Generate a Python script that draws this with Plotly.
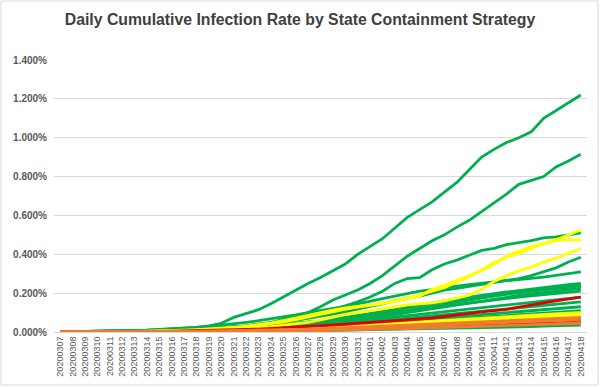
import plotly.graph_objects as go

dates = ["20200307","20200308","20200309","20200310","20200311","20200312","20200313",
         "20200314","20200315","20200316","20200317","20200318","20200319","20200320",
         "20200321","20200322","20200323","20200324","20200325","20200326","20200327",
         "20200328","20200329","20200330","20200331","20200401","20200402","20200403",
         "20200404","20200405","20200406","20200407","20200408","20200409","20200410",
         "20200411","20200412","20200413","20200414","20200415","20200416","20200417",
         "20200418"]

y_ticks = [0.0, 0.2, 0.4, 0.6, 0.8, 1.0, 1.2, 1.4]
y_tick_labels = ["0.000%", "0.200%", "0.400%", "0.600%", "0.800%", "1.000%", "1.200%", "1.400%"]

# cumulative infection rate, in percent
green_1 = [0.000,0.001,0.002,0.003,0.004,0.005,0.007,0.009,0.012,0.015,0.019,0.024,0.031,0.045,0.075,0.095,0.115,0.145,0.178,0.215,0.250,0.280,0.315,0.350,0.400,0.440,0.480,0.535,0.590,0.630,0.670,0.720,0.770,0.835,0.900,0.940,0.975,1.000,1.030,1.100,1.140,1.180,1.220]
green_2 = [0.000,0.000,0.001,0.001,0.002,0.003,0.004,0.005,0.006,0.008,0.010,0.012,0.016,0.020,0.025,0.032,0.040,0.050,0.065,0.080,0.100,0.130,0.165,0.190,0.216,0.250,0.290,0.340,0.390,0.430,0.470,0.500,0.540,0.575,0.620,0.665,0.710,0.760,0.780,0.800,0.850,0.880,0.915]
green_3 = [0.000,0.000,0.001,0.001,0.002,0.002,0.003,0.004,0.005,0.006,0.008,0.010,0.013,0.017,0.022,0.028,0.035,0.045,0.055,0.068,0.082,0.098,0.115,0.135,0.155,0.180,0.210,0.250,0.275,0.280,0.320,0.350,0.370,0.395,0.420,0.430,0.450,0.460,0.470,0.485,0.490,0.500,0.510]
green_4 = [0.000,0.001,0.001,0.002,0.003,0.004,0.005,0.006,0.008,0.010,0.012,0.015,0.018,0.022,0.027,0.032,0.038,0.045,0.052,0.060,0.070,0.080,0.092,0.105,0.120,0.132,0.145,0.160,0.175,0.185,0.200,0.215,0.225,0.235,0.245,0.252,0.262,0.275,0.290,0.310,0.330,0.360,0.385]
green_5 = [0.000,0.001,0.002,0.003,0.004,0.006,0.008,0.010,0.013,0.016,0.020,0.024,0.029,0.035,0.042,0.050,0.058,0.067,0.077,0.088,0.100,0.110,0.120,0.132,0.145,0.160,0.172,0.185,0.198,0.210,0.218,0.228,0.236,0.244,0.252,0.258,0.264,0.270,0.276,0.283,0.292,0.300,0.310]
green_6 = [0.000,0.000,0.001,0.001,0.002,0.002,0.003,0.004,0.005,0.006,0.008,0.010,0.012,0.015,0.018,0.022,0.026,0.031,0.036,0.042,0.048,0.055,0.062,0.070,0.080,0.090,0.100,0.112,0.125,0.138,0.150,0.160,0.170,0.180,0.190,0.198,0.206,0.214,0.222,0.230,0.238,0.244,0.250]
green_7 = [0.000,0.000,0.000,0.001,0.001,0.002,0.002,0.003,0.004,0.005,0.006,0.008,0.010,0.012,0.015,0.018,0.022,0.026,0.031,0.036,0.042,0.048,0.055,0.063,0.071,0.080,0.090,0.100,0.110,0.120,0.132,0.143,0.154,0.165,0.175,0.185,0.194,0.202,0.210,0.218,0.226,0.234,0.240]
green_8 = [0.000,0.000,0.001,0.001,0.002,0.003,0.004,0.005,0.006,0.007,0.009,0.011,0.013,0.016,0.019,0.023,0.027,0.032,0.038,0.044,0.051,0.058,0.066,0.075,0.085,0.095,0.105,0.115,0.126,0.137,0.148,0.158,0.167,0.176,0.184,0.192,0.199,0.206,0.213,0.220,0.226,0.231,0.235]
green_9 = [0.000,0.000,0.000,0.000,0.001,0.001,0.002,0.002,0.003,0.004,0.005,0.006,0.008,0.010,0.012,0.015,0.018,0.022,0.026,0.031,0.036,0.042,0.049,0.056,0.064,0.072,0.081,0.090,0.100,0.110,0.120,0.130,0.140,0.150,0.160,0.170,0.180,0.188,0.196,0.204,0.212,0.219,0.225]
green_10 = [0.000,0.000,0.001,0.001,0.002,0.003,0.004,0.005,0.006,0.008,0.010,0.012,0.014,0.017,0.020,0.024,0.028,0.033,0.038,0.044,0.050,0.056,0.063,0.070,0.078,0.086,0.094,0.102,0.110,0.118,0.126,0.134,0.142,0.150,0.158,0.166,0.173,0.180,0.186,0.192,0.198,0.204,0.210]
green_11 = [0.000,0.000,0.000,0.001,0.001,0.002,0.002,0.003,0.004,0.005,0.006,0.007,0.009,0.011,0.013,0.016,0.019,0.022,0.026,0.030,0.035,0.040,0.045,0.051,0.057,0.063,0.070,0.077,0.084,0.091,0.098,0.105,0.112,0.119,0.126,0.133,0.140,0.147,0.154,0.161,0.168,0.174,0.180]
green_12 = [0.000,0.000,0.000,0.000,0.001,0.001,0.001,0.002,0.002,0.003,0.004,0.005,0.006,0.008,0.010,0.012,0.014,0.017,0.020,0.024,0.028,0.032,0.037,0.042,0.047,0.053,0.059,0.065,0.071,0.077,0.083,0.090,0.097,0.104,0.110,0.116,0.122,0.128,0.134,0.140,0.145,0.150,0.155]
green_13 = [0.000,0.000,0.000,0.000,0.000,0.001,0.001,0.001,0.002,0.002,0.003,0.004,0.005,0.006,0.008,0.010,0.012,0.014,0.017,0.020,0.023,0.027,0.031,0.035,0.039,0.044,0.049,0.054,0.059,0.064,0.069,0.074,0.080,0.086,0.091,0.096,0.101,0.106,0.111,0.116,0.121,0.126,0.130]
green_14 = [0.000,0.000,0.000,0.000,0.000,0.000,0.001,0.001,0.001,0.002,0.002,0.003,0.004,0.005,0.006,0.008,0.010,0.012,0.014,0.016,0.019,0.022,0.025,0.028,0.032,0.036,0.040,0.044,0.048,0.052,0.057,0.062,0.067,0.072,0.077,0.081,0.085,0.089,0.093,0.097,0.101,0.106,0.110]
green_15 = [0.000,0.000,0.000,0.000,0.000,0.000,0.000,0.001,0.001,0.001,0.002,0.002,0.003,0.003,0.004,0.005,0.006,0.007,0.009,0.011,0.013,0.015,0.017,0.019,0.021,0.024,0.027,0.030,0.033,0.036,0.039,0.042,0.045,0.048,0.051,0.054,0.057,0.059,0.061,0.063,0.065,0.068,0.070]
green_16 = [0.000,0.000,0.000,0.000,0.000,0.000,0.000,0.000,0.001,0.001,0.001,0.002,0.002,0.003,0.003,0.004,0.005,0.006,0.007,0.008,0.009,0.010,0.012,0.014,0.016,0.018,0.020,0.022,0.024,0.026,0.028,0.030,0.032,0.034,0.036,0.038,0.040,0.042,0.044,0.046,0.047,0.049,0.050]
green_17 = [0.000,0.000,0.000,0.000,0.000,0.000,0.000,0.000,0.000,0.001,0.001,0.001,0.002,0.002,0.002,0.003,0.003,0.004,0.004,0.005,0.006,0.007,0.008,0.009,0.010,0.011,0.012,0.013,0.015,0.016,0.017,0.018,0.020,0.021,0.022,0.024,0.025,0.027,0.028,0.030,0.031,0.033,0.035]

yellow_1 = [0.000,0.000,0.001,0.001,0.002,0.002,0.003,0.004,0.005,0.007,0.009,0.012,0.015,0.019,0.024,0.030,0.038,0.047,0.058,0.072,0.088,0.100,0.113,0.124,0.131,0.140,0.150,0.160,0.175,0.190,0.210,0.228,0.258,0.285,0.320,0.358,0.385,0.405,0.430,0.455,0.475,0.500,0.525]
yellow_2 = [0.000,0.000,0.000,0.001,0.001,0.002,0.002,0.003,0.004,0.005,0.007,0.009,0.012,0.016,0.021,0.027,0.034,0.042,0.052,0.064,0.078,0.092,0.105,0.118,0.128,0.136,0.146,0.158,0.170,0.185,0.220,0.240,0.265,0.290,0.315,0.350,0.390,0.415,0.440,0.455,0.470,0.475,0.474]
yellow_3 = [0.000,0.000,0.000,0.000,0.001,0.001,0.002,0.002,0.003,0.004,0.005,0.006,0.008,0.010,0.013,0.017,0.022,0.028,0.035,0.042,0.050,0.062,0.078,0.090,0.100,0.110,0.120,0.130,0.140,0.145,0.150,0.160,0.175,0.190,0.220,0.260,0.290,0.315,0.335,0.360,0.380,0.405,0.430]
yellow_4 = [0.000,0.000,0.000,0.000,0.000,0.001,0.001,0.001,0.002,0.002,0.003,0.004,0.005,0.006,0.007,0.009,0.011,0.013,0.015,0.018,0.021,0.024,0.027,0.030,0.033,0.036,0.040,0.044,0.048,0.052,0.056,0.060,0.064,0.068,0.072,0.075,0.079,0.082,0.085,0.089,0.093,0.097,0.100]
yellow_5 = [0.000,0.000,0.000,0.000,0.000,0.000,0.001,0.001,0.001,0.002,0.002,0.003,0.003,0.004,0.005,0.006,0.007,0.009,0.011,0.013,0.015,0.017,0.019,0.022,0.025,0.028,0.031,0.034,0.037,0.040,0.044,0.048,0.052,0.056,0.060,0.064,0.067,0.070,0.074,0.078,0.081,0.085,0.088]
yellow_6 = [0.000,0.000,0.000,0.000,0.000,0.000,0.000,0.000,0.001,0.001,0.001,0.002,0.002,0.002,0.003,0.003,0.004,0.005,0.006,0.007,0.008,0.009,0.011,0.013,0.015,0.017,0.019,0.021,0.023,0.025,0.028,0.031,0.034,0.037,0.040,0.043,0.045,0.047,0.050,0.053,0.055,0.058,0.060]

red_1 = [0.000,0.000,0.000,0.000,0.001,0.001,0.002,0.002,0.003,0.004,0.005,0.006,0.007,0.009,0.011,0.013,0.015,0.018,0.021,0.024,0.028,0.032,0.036,0.040,0.044,0.048,0.052,0.057,0.062,0.067,0.072,0.080,0.090,0.098,0.104,0.110,0.116,0.128,0.140,0.150,0.160,0.170,0.180]
red_2 = [0.000,0.000,0.000,0.000,0.000,0.000,0.001,0.001,0.001,0.001,0.002,0.002,0.002,0.003,0.003,0.004,0.004,0.005,0.006,0.007,0.008,0.009,0.010,0.012,0.014,0.016,0.018,0.020,0.022,0.025,0.028,0.031,0.034,0.037,0.040,0.042,0.044,0.046,0.049,0.052,0.055,0.058,0.060]

orange_1 = [0.000,0.000,0.000,0.000,0.000,0.000,0.001,0.001,0.002,0.002,0.003,0.003,0.004,0.005,0.006,0.007,0.008,0.009,0.011,0.013,0.015,0.017,0.019,0.021,0.024,0.027,0.030,0.033,0.036,0.039,0.042,0.045,0.048,0.051,0.054,0.057,0.060,0.063,0.066,0.068,0.070,0.073,0.075]
orange_2 = [0.000,0.000,0.000,0.000,0.000,0.001,0.001,0.001,0.002,0.002,0.003,0.003,0.004,0.004,0.005,0.006,0.007,0.008,0.009,0.010,0.012,0.014,0.016,0.018,0.020,0.022,0.024,0.026,0.028,0.031,0.034,0.037,0.040,0.042,0.044,0.046,0.049,0.051,0.053,0.055,0.057,0.060,0.062]
orange_3 = [0.000,0.000,0.000,0.000,0.000,0.000,0.000,0.001,0.001,0.001,0.001,0.002,0.002,0.002,0.003,0.003,0.004,0.004,0.005,0.005,0.006,0.007,0.008,0.009,0.010,0.012,0.014,0.016,0.018,0.020,0.022,0.024,0.026,0.028,0.030,0.032,0.034,0.036,0.038,0.040,0.042,0.043,0.045]

GREEN = "#00B050"
YELLOW = "#FFFF00"
RED = "#E00000"
ORANGE = "#ED7D31"

groups = [
    (GREEN, [green_1, green_2, green_3, green_4, green_5, green_6, green_7, green_8, green_9,
             green_10, green_11, green_12, green_13, green_14, green_15, green_16, green_17]),
    (YELLOW, [yellow_1, yellow_2, yellow_3, yellow_4, yellow_5, yellow_6]),
    (RED, [red_1, red_2]),
    (ORANGE, [orange_1, orange_2, orange_3]),
]

fig = go.Figure()
for color, series_list in groups:
    for s in series_list:
        assert len(s) == len(dates), len(s)
        fig.add_trace(go.Scatter(x=dates, y=s, mode="lines",
                                 line=dict(color=color, width=2.8),
                                 showlegend=False, hoverinfo="skip"))

W, H = 600, 387
ml, mr, mt, mb = 54, 13, 60, 55
pw, ph = W - ml - mr, H - mt - mb
FONT = "Liberation Sans, Arial, sans-serif"

fig.update_layout(
    width=W, height=H,
    margin=dict(l=ml, r=mr, t=mt, b=mb, autoexpand=False),
    paper_bgcolor="white", plot_bgcolor="white",
    title=dict(text="<b>Daily Cumulative Infection Rate by State Containment Strategy</b>",
               x=0.5, xanchor="center", y=1 - 19 / H, yanchor="middle", yref="container",
               font=dict(family=FONT, size=15.8, color="#404040")),
    xaxis=dict(type="category", range=[-0.5, len(dates) - 0.5], tickangle=-90,
               tickfont=dict(family=FONT, size=9, color="#595959"),
               showgrid=False, showline=True, linecolor="#D9D9D9", linewidth=1,
               ticks="", automargin=False, fixedrange=True),
    yaxis=dict(range=[0, 1.4], tickvals=y_ticks, ticktext=y_tick_labels,
               tickfont=dict(family=FONT, size=10, color="#595959", weight="bold"),
               showgrid=True, gridcolor="#D9D9D9", gridwidth=1, zeroline=False,
               showline=False, ticks="", ticklabelstandoff=6, automargin=False,
               fixedrange=True),
    shapes=[dict(type="rect", xref="paper", yref="paper",
                 x0=(1 - ml) / pw, x1=(W - 2 - ml) / pw,
                 y0=(H - mb - (H - 2)) / ph, y1=(H - mb - 1) / ph,
                 line=dict(color="#D9D9D9", width=1), fillcolor="rgba(0,0,0,0)", layer="below")],
)

fig.write_html("out.html", config={"displayModeBar": False},
               post_script="document.body.style.margin='0';document.body.style.padding='0';")
